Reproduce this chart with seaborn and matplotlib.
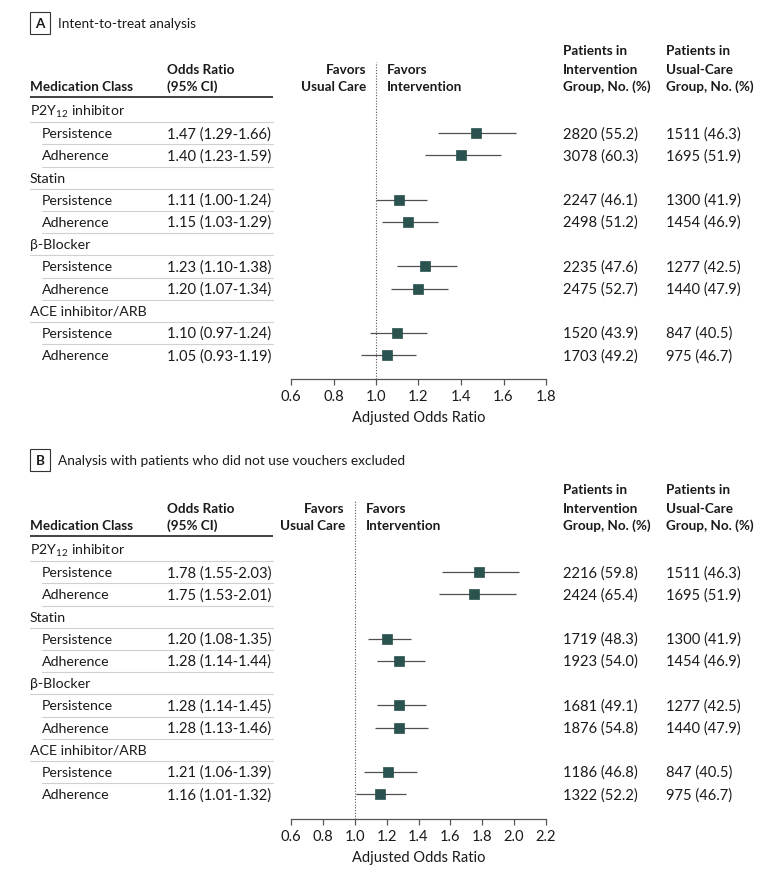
import numpy as np
import pandas as pd
import matplotlib
matplotlib.use("Agg")
import matplotlib.pyplot as plt
import seaborn as sns
from matplotlib.transforms import blended_transform_factory

# ---------------- data ----------------
classes = ["P2Y$_\\mathregular{12}$ inhibitor", "Statin", "\u03b2-Blocker", "ACE inhibitor/ARB"]
measures = ["Persistence", "Adherence"]

a_or = [1.47, 1.40, 1.11, 1.15, 1.23, 1.20, 1.10, 1.05]
a_lo = [1.29, 1.23, 1.00, 1.03, 1.10, 1.07, 0.97, 0.93]
a_hi = [1.66, 1.59, 1.24, 1.29, 1.38, 1.34, 1.24, 1.19]
a_int_n = [2820, 3078, 2247, 2498, 2235, 2475, 1520, 1703]
a_int_pct = [55.2, 60.3, 46.1, 51.2, 47.6, 52.7, 43.9, 49.2]
a_uc_n = [1511, 1695, 1300, 1454, 1277, 1440, 847, 975]
a_uc_pct = [46.3, 51.9, 41.9, 46.9, 42.5, 47.9, 40.5, 46.7]

b_or = [1.78, 1.75, 1.20, 1.28, 1.28, 1.28, 1.21, 1.16]
b_lo = [1.55, 1.53, 1.08, 1.14, 1.14, 1.13, 1.06, 1.01]
b_hi = [2.03, 2.01, 1.35, 1.44, 1.45, 1.46, 1.39, 1.32]
b_int_n = [2216, 2424, 1719, 1923, 1681, 1876, 1186, 1322]
b_int_pct = [59.8, 65.4, 48.3, 54.0, 49.1, 54.8, 46.8, 52.2]
b_uc_n = [1511, 1695, 1300, 1454, 1277, 1440, 847, 975]
b_uc_pct = [46.3, 51.9, 41.9, 46.9, 42.5, 47.9, 40.5, 46.7]

a_ticks = [0.6, 0.8, 1.0, 1.2, 1.4, 1.6, 1.8]
b_ticks = [0.6, 0.8, 1.0, 1.2, 1.4, 1.6, 1.8, 2.0, 2.2]

# ---------------- style ----------------
sns.set_theme(style="white")
FONT = "Lato"
plt.rcParams["font.family"] = [FONT, "DejaVu Sans"]
plt.rcParams["mathtext.fontset"] = "custom"
plt.rcParams["mathtext.rm"] = FONT
FS = 10.2      # words
FSN = 10.6     # numbers
FSB = 9.7      # bold headers
FST = 9.8      # panel titles
TXT = "#1a1a1a"
MARK = "#2a524e"
GRID = "#d0d0d0"

W, H = 780, 870
fig = plt.figure(figsize=(W / 100, H / 100), dpi=100)
fig.patch.set_facecolor("white")


def fx(px):
    return px / W


def fy(px):
    return 1 - px / H


def panel(letter, title, title_px, row0, pitch, top_px, bottom_px, hdr, hline_px,
          ticks, ors, los, his, int_n, int_pct, uc_n, uc_pct):
    x0px, x1px = 291, 546
    ax = fig.add_axes([fx(x0px), fy(bottom_px), fx(x1px) - fx(x0px), (bottom_px - top_px) / H])
    yd = lambda px: (px - row0) / pitch
    ax.set_ylim(yd(bottom_px), yd(top_px))
    ax.set_xlim(ticks[0], ticks[-1])
    tr = blended_transform_factory(fig.transFigure, ax.transData)
    ref_px = x0px + (1.0 - ticks[0]) / (ticks[-1] - ticks[0]) * (x1px - x0px)

    # title
    fig.text(fx(40), fy(title_px), letter, ha="center", va="center", fontsize=FSB,
             weight="bold", color=TXT,
             bbox=dict(boxstyle="square,pad=0.4", fc="white", ec="#333333", lw=0.8))
    fig.text(fx(58), fy(title_px), title, ha="left", va="center", fontsize=FST, color=TXT)

    # headers
    l1, l2, l3 = [yd(v) for v in hdr]
    kw = dict(transform=tr, fontsize=FSB, weight="bold", color=TXT, va="center", clip_on=False)
    ax.text(fx(30), l3, "Medication Class", ha="left", **kw)
    ax.text(fx(167), l2, "Odds Ratio", ha="left", **kw)
    ax.text(fx(167), l3, "(95% CI)", ha="left", **kw)
    ax.text(fx(ref_px - 10), l2, "Favors", ha="right", **kw)
    ax.text(fx(ref_px - 10), l3, "Usual Care", ha="right", **kw)
    ax.text(fx(ref_px + 11), l2, "Favors", ha="left", **kw)
    ax.text(fx(ref_px + 11), l3, "Intervention", ha="left", **kw)
    ax.text(fx(563), l1, "Patients in", ha="left", **kw)
    ax.text(fx(563), l2, "Intervention", ha="left", **kw)
    ax.text(fx(563), l3, "Group, No. (%)", ha="left", **kw)
    ax.text(fx(666), l1, "Patients in", ha="left", **kw)
    ax.text(fx(666), l2, "Usual-Care", ha="left", **kw)
    ax.text(fx(666), l3, "Group, No. (%)", ha="left", **kw)
    ax.plot([fx(30), fx(273)], [yd(hline_px)] * 2, transform=tr, color="#333333",
            lw=1.3, clip_on=False, solid_capstyle="butt")

    # table rows
    rows = []
    for k, c in enumerate(classes):
        r = 3 * k
        ax.text(fx(30), r, c, transform=tr, ha="left", va="center", fontsize=FS,
                color=TXT, clip_on=False)
        ax.plot([fx(30), fx(273)], [r + 0.5] * 2, transform=tr, color=GRID, lw=0.8,
                clip_on=False)
        for j, m in enumerate(measures):
            i = 2 * k + j
            rr = r + 1 + j
            ax.text(fx(42), rr, m, transform=tr, ha="left", va="center", fontsize=FS,
                    color=TXT, clip_on=False)
            ax.text(fx(167), rr, f"{ors[i]:.2f} ({los[i]:.2f}-{his[i]:.2f})", transform=tr,
                    ha="left", va="center", fontsize=FSN, color=TXT, clip_on=False)
            ax.text(fx(563), rr, f"{int_n[i]} ({int_pct[i]:.1f})", transform=tr,
                    ha="left", va="center", fontsize=FSN, color=TXT, clip_on=False)
            ax.text(fx(666), rr, f"{uc_n[i]} ({uc_pct[i]:.1f})", transform=tr,
                    ha="left", va="center", fontsize=FSN, color=TXT, clip_on=False)
            if not (k == len(classes) - 1 and j == 1):
                ax.plot([fx(42), fx(273)], [rr + 0.5] * 2, transform=tr, color=GRID,
                        lw=0.8, clip_on=False)
            rows.append(dict(row=rr, orv=ors[i], lo=los[i], hi=his[i]))
    df = pd.DataFrame(rows)

    # reference line
    ax.axvline(1.0, ls=(0, (1, 1.5)), color="#555555", lw=0.8, zorder=1)
    # CIs
    ax.hlines(df["row"], df["lo"], df["hi"], color="#505050", lw=0.9, zorder=2)
    sns.scatterplot(data=df, x="orv", y="row", marker="s", s=48, color=MARK,
                    edgecolor=MARK, linewidth=0.5, ax=ax, zorder=3, legend=False)
    ax.set_ylim(yd(bottom_px), yd(top_px))
    ax.set_xlim(ticks[0], ticks[-1])

    # axes style
    for s in ["left", "top", "right"]:
        ax.spines[s].set_visible(False)
    ax.spines["bottom"].set_color("#555555")
    ax.spines["bottom"].set_linewidth(0.9)
    ax.set_xticks(ticks)
    ax.set_xticklabels([f"{t:.1f}" for t in ticks])
    ax.tick_params(axis="x", direction="out", length=4, width=0.9, color="#555555",
                   labelsize=FSN, labelcolor=TXT, pad=3, bottom=True)
    ax.set_yticks([])
    ax.set_ylabel("")
    ax.set_xlabel("Adjusted Odds Ratio", fontsize=FS + 0.3, color=TXT, labelpad=5)
    ax.set_facecolor("none")
    return ax


panel("A", "Intent-to-treat analysis", 24, 112, 22.2, 63, 380,
      (51, 70, 87), 98, a_ticks, a_or, a_lo, a_hi, a_int_n, a_int_pct, a_uc_n, a_uc_pct)
panel("B", "Analysis with patients who did not use vouchers excluded", 461, 551, 22.2, 502, 820,
      (490, 509, 526), 537, b_ticks, b_or, b_lo, b_hi, b_int_n, b_int_pct, b_uc_n, b_uc_pct)

fig.savefig("out.png", dpi=100, facecolor="white")
